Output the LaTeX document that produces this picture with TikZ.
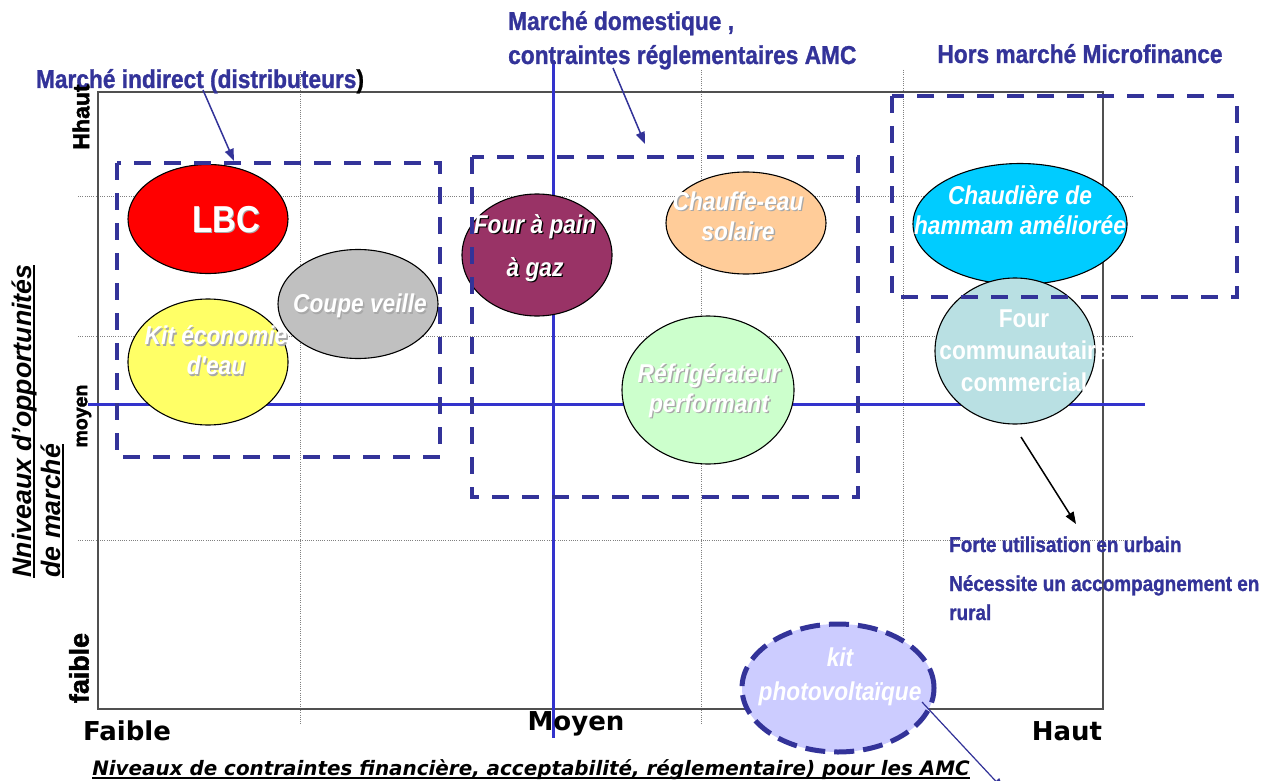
\documentclass[tikz,border=0pt]{standalone}
\usepackage{fontspec}
\setmainfont{Liberation Sans}
\newfontfamily\arn[FakeStretch=0.88, BoldFont={Liberation Sans Bold}, BoldItalicFont={Liberation Sans Bold Italic}, ItalicFont={Liberation Sans Italic}]{Liberation Sans}
\newfontfamily\arnb[FakeStretch=0.88, FakeBold=1]{Liberation Sans Bold}
\newfontfamily\arialb[FakeBold=2]{Liberation Sans Bold}
\newfontfamily\arialbi{Liberation Sans Bold Italic}
\newfontfamily\dvsb{DejaVu Sans Bold}
\newfontfamily\dvsbi{DejaVu Sans Bold Oblique}
\usetikzlibrary{shapes.geometric,arrows.meta}
\definecolor{dblue}{HTML}{333399}
\definecolor{bblue}{HTML}{3333CC}
\definecolor{framegray}{HTML}{505050}
\definecolor{lbcred}{HTML}{FF0000}
\definecolor{kityel}{HTML}{FFFF66}
\definecolor{coupegray}{HTML}{C0C0C0}
\definecolor{fourpain}{HTML}{993366}
\definecolor{chauffe}{HTML}{FFCC99}
\definecolor{refrig}{HTML}{CCFFCC}
\definecolor{chaud}{HTML}{00CCFF}
\definecolor{fourcom}{HTML}{B9E0E3}
\definecolor{kitpv}{HTML}{CCCCFF}
\definecolor{shgray}{HTML}{A8A8A8}
\newcommand\shd[2][shgray]{\makebox[0pt][l]{\kern1.4pt\raisebox{-1.4pt}{\textcolor{#1}{#2}}}#2}
\newsavebox\myulbox
\newcommand\myul[2][3.5pt]{\sbox\myulbox{#2}\leavevmode\rlap{\rule[-#1]{\wd\myulbox}{1.6pt}}\usebox\myulbox}
\begin{document}
\begin{tikzpicture}[x=1pt,y=-1pt,
  ell/.style={ellipse, draw=black, line width=1.1pt, inner sep=0pt},
  etxt/.style={text=white, align=center, inner sep=0pt, font=\arn\bfseries\itshape\fontsize{25.8}{30}\selectfont},
  dbox/.style={draw=dblue, line width=4.5pt, dash pattern=on 17pt off 13pt},
  gridl/.style={draw=gray, line width=0.8pt, dash pattern=on 1pt off 1.2pt},
  axisl/.style={draw=bblue, line width=3pt},
  bluelab/.style={text=dblue, inner sep=0pt, font=\arnb\fontsize{25.8}{34}\selectfont},
  axlab/.style={text=black, inner sep=0pt, font=\dvsb\fontsize{26}{30}\selectfont},
  arr/.style={-{Triangle[length=12pt,width=9pt]}, line width=1.5pt}]
\useasboundingbox (0,0) rectangle (1268,781);
\fill[white] (0,0) rectangle (1268,781);
% grid
\draw[gridl] (78,196) -- (1133,196);
\draw[gridl] (78,336) -- (1133,336);
\draw[gridl] (78,540) -- (1133,540);
\draw[gridl] (300,70) -- (300,725);
\draw[gridl] (701,70) -- (701,725);
\draw[gridl] (903,70) -- (903,725);
% frame
\draw[draw=framegray, line width=1.5pt] (98,92) rectangle (1103,709);
% axes
\draw[axisl] (88,404) -- (1145,404);
\draw[axisl] (553,60) -- (553,738);
% ellipses
\node[ell, fill=lbcred, minimum width=160pt, minimum height=109pt] (lbc) at (208,219) {};
\node[ell, fill=kityel, minimum width=160pt, minimum height=126pt] (kiteau) at (208,362) {};
\node[ell, fill=coupegray, minimum width=160pt, minimum height=109pt] (coupe) at (358,304) {};
\node[ell, fill=fourpain, minimum width=150pt, minimum height=122pt] (pain) at (537,255) {};
\node[ell, fill=chauffe, minimum width=160pt, minimum height=102pt] (chauffe) at (746,223) {};
\node[ell, fill=refrig, minimum width=172pt, minimum height=148pt] (refrig) at (708,390) {};
\node[ell, fill=chaud, minimum width=214pt, minimum height=121pt] (chaud) at (1020,224) {};
\node[ell, fill=fourcom, minimum width=160pt, minimum height=146pt] (fourcom) at (1015,351) {};
\node[ellipse, fill=kitpv, draw=dblue, line width=5pt, dash pattern=on 20pt off 9pt, minimum width=192pt, minimum height=128pt, inner sep=0pt] (kit) at (838,688) {};
% ellipse texts
\node[etxt, font=\arn\bfseries\fontsize{37.5}{40}\selectfont] (lbct) at (226,220) {\shd{LBC}};
\node[etxt] (kiteaut) at (216,351) {\shd{Kit économie}\\\shd{d'eau}};
\node[etxt] (coupet) at (360,307) {\shd{Coupe veille}};
\node[etxt] (paint) at (535,249) {\shd[black]{Four à pain}\\[13pt]\shd[black]{à gaz}};
\node[etxt] (chauffet) at (738,217) {\shd{Chauffe-eau}\\\shd{solaire}};
\node[etxt] (refrigt) at (709,391) {\shd{Réfrigérateur}\\\shd{performant}};
\node[etxt] (chaudt) at (1020,210) {Chaudière de\\hammam améliorée};
\node[etxt, font=\arn\bfseries\fontsize{25.8}{32}\selectfont] (fourcomt) at (1024,351) {Four\\communautaire\\commercial};
\node[etxt, font=\arn\bfseries\itshape\fontsize{25.8}{34}\selectfont] (kitt) at (840,677) {kit\\photovoltaïque};
% dashed boxes
\draw[dbox] (117,163) rectangle (440,457);
\draw[dbox] (472,157) rectangle (858,497);
\draw[dbox] (892,96) rectangle (1237,297);
% top labels
\node[bluelab, anchor=base] (mi) at (200,88) {Marché indirect (distributeurs\textcolor{black}{)}};
\node[bluelab, anchor=base west, align=left] (md) at (508,30) {Marché domestique ,};
\node[bluelab, anchor=base west, align=left] (ct) at (508,64) {contraintes réglementaires AMC};
\node[bluelab, anchor=base] (hm) at (1080,63) {Hors marché Microfinance};
% arrows
\coordinate (mistart) at (203,90);
\coordinate (miend) at (234,161);
\draw[arr, draw=dblue, fill=dblue] (mistart) -- (miend);
\coordinate (ctstart) at (613,68);
\coordinate (ctend) at (645,144);
\draw[arr, draw=dblue, fill=dblue] (ctstart) -- (ctend);
\coordinate (fcstart) at (1021,437);
\coordinate (fcend) at (1076,524);
\draw[arr, draw=black, fill=black] (fcstart) -- (fcend);
\coordinate (kitstart) at (922,702);
\coordinate (kitend) at (1004,790);
\draw[arr, draw=dblue, fill=dblue, line width=1.2pt] (kitstart) -- (kitend);
% right text
\node[text=dblue, inner sep=0pt, anchor=base west, font=\arnb\fontsize{21.5}{29}\selectfont] (forte) at (949,552) {Forte utilisation en urbain};
\node[text=dblue, inner sep=0pt, anchor=base west, align=left, font=\arnb\fontsize{21.5}{29}\selectfont] (neces) at (949,620) {Nécessite un accompagnement en\\rural};
% axis labels
\node[axlab, anchor=base] (faibleb) at (127,740) {Faible};
\node[axlab, anchor=base] (moyenb) at (576,730) {Moyen};
\node[axlab, anchor=base] (hautb) at (1067,740) {Haut};
\node[text=black, inner sep=0pt, anchor=base, font=\dvsbi\fontsize{19.9}{24}\selectfont] (xtitle) at (531,775) {\myul{Niveaux de contraintes financière, acceptabilité, réglementaire) pour les AMC}};
\node[text=black, inner sep=0pt, rotate=90, font=\arialb\fontsize{23}{26}\selectfont] (hhaut) at (81,117) {Hhaut};
\node[text=black, inner sep=0pt, rotate=90, font=\arialb\fontsize{19.5}{22}\selectfont] (moyenl) at (84,416) {moyen};
\node[text=black, inner sep=0pt, rotate=90, font=\arialb\fontsize{26.8}{30}\selectfont] (faiblel) at (79,668) {faible};
\node[text=black, inner sep=0pt, rotate=90, align=left, font=\arialbi\fontsize{26.7}{29}\selectfont] (ytitle) at (38,421) {\myul{Nniveaux d’opportunités}\\\myul{de marché}};
\end{tikzpicture}
\end{document}
